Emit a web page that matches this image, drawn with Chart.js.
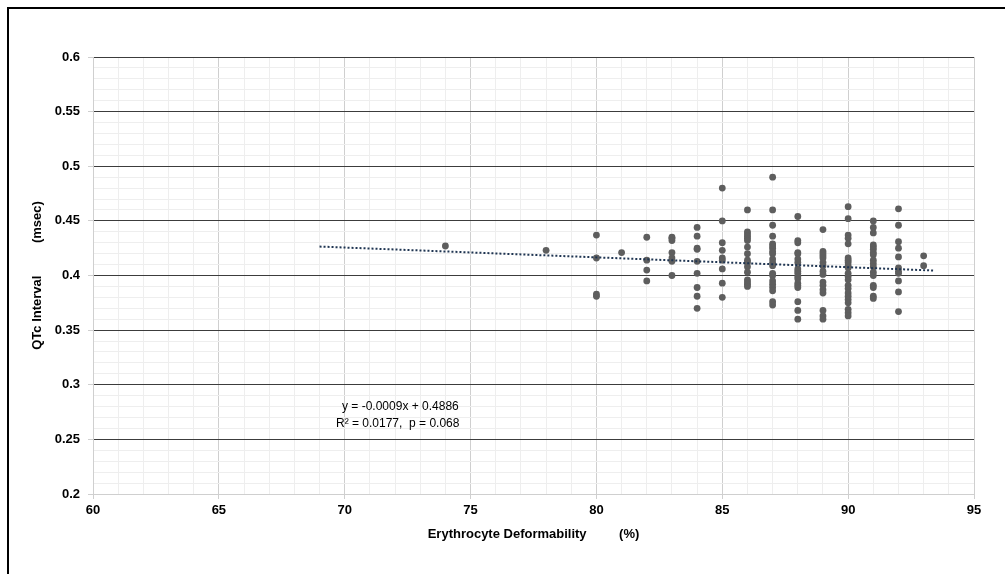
<!DOCTYPE html>
<html lang="en">
<head>
    <meta charset="UTF-8">
    <title>QTc Interval vs Erythrocyte Deformability</title>
    <script src="https://cdn.jsdelivr.net/npm/chart.js@4.4.1/dist/chart.umd.min.js"></script>
    <style>
        body {
            margin: 0;
            background: #fff;
            font-family: 'Liberation Sans', Arial, sans-serif;
        }
        .wrap {
            position: relative;
            width: 1005px;
            height: 574px;
        }
        .frame {
            position: absolute;
            left: 7px;
            top: 7px;
            right: -10px;
            bottom: -10px;
            border-left: 2px solid #000;
            border-top: 2px solid #000;
            pointer-events: none;
        }
        .eq {
            position: absolute;
            font-size: 12px;
            color: #000;
            white-space: pre;
            line-height: 16px;
        }
    </style>
</head>
<body>
<div class="wrap">
    <canvas id="chart" width="1005" height="574"></canvas>
    <div class="frame"></div>
    <div class="eq" style="left:342px; top:398px;">y = -0.0009x + 0.4886</div>
    <div class="eq" style="left:336px; top:415px;">R² = 0.0177,  p = 0.068</div>
</div>

<script>
    // deformability (%) and matching QTc values
    const deform = [
        74,
        78,
        80, 80, 80, 80,
        81,
        82, 82, 82, 82,
        83, 83, 83, 83, 83, 83, 83,
        84, 84, 84, 84, 84, 84, 84, 84, 84,
        85, 85, 85, 85, 85, 85, 85, 85, 85,
        86, 86, 86, 86, 86, 86, 86, 86, 86, 86, 86, 86, 86, 86, 86, 86,
        87, 87, 87, 87, 87, 87, 87, 87, 87, 87, 87, 87, 87, 87, 87, 87, 87, 87, 87, 87,
        88, 88, 88, 88, 88, 88, 88, 88, 88, 88, 88, 88, 88, 88, 88, 88, 88, 88,
        89, 89, 89, 89, 89, 89, 89, 89, 89, 89, 89, 89, 89, 89, 89, 89,
        90, 90, 90, 90, 90, 90, 90, 90, 90, 90, 90, 90, 90, 90, 90, 90, 90, 90, 90, 90, 90, 90,
        91, 91, 91, 91, 91, 91, 91, 91, 91, 91, 91, 91, 91, 91, 91, 91, 91,
        92, 92, 92, 92, 92, 92, 92, 92, 92, 92, 92,
        93, 93
    ];
    const qtc = [
        0.427,
        0.423,
        0.437, 0.416, 0.383, 0.381,
        0.421,
        0.435, 0.414, 0.405, 0.395,
        0.435, 0.434, 0.432, 0.421, 0.416, 0.413, 0.400,
        0.444, 0.436, 0.425, 0.424, 0.413, 0.402, 0.389, 0.381, 0.370,
        0.480, 0.450, 0.430, 0.423, 0.416, 0.414, 0.406, 0.393, 0.380,
        0.460, 0.440, 0.438, 0.436, 0.434, 0.432, 0.426, 0.420, 0.414, 0.412, 0.408, 0.403, 0.396, 0.394, 0.392, 0.390, 0.373,
        0.490, 0.460, 0.446, 0.436, 0.429, 0.427, 0.425, 0.422, 0.420, 0.415, 0.412, 0.409, 0.402, 0.400, 0.395, 0.392, 0.389, 0.386, 0.376,
        0.454, 0.432, 0.430, 0.421, 0.420, 0.415, 0.412, 0.406, 0.404, 0.402, 0.399, 0.397, 0.393, 0.391, 0.389, 0.376, 0.368, 0.360,
        0.442, 0.422, 0.420, 0.418, 0.416, 0.412, 0.409, 0.404, 0.401, 0.394, 0.391, 0.387, 0.384, 0.368, 0.363, 0.360,
        0.463, 0.452, 0.437, 0.434, 0.429, 0.416, 0.414, 0.412, 0.409, 0.407, 0.402, 0.399, 0.396, 0.391, 0.388, 0.384, 0.381, 0.378, 0.375, 0.369, 0.366, 0.363,
        0.450, 0.444, 0.439, 0.428, 0.426, 0.424, 0.421, 0.419, 0.414, 0.411, 0.408, 0.403, 0.400, 0.391, 0.389, 0.381, 0.379,
        0.461, 0.446, 0.431, 0.425, 0.417, 0.407, 0.404, 0.402, 0.395, 0.385, 0.367,
        0.418, 0.409
    ];

    // linear trendline from the figure: y = -0.0009x + 0.4886
    const trendSlope = -0.0009;
    const trendIntercept = 0.4886;
    const trendRange = [69, 93.4];

    const points = deform.map((x, i) => ({ x: x, y: qtc[i] }));
    const trend = trendRange.map(x => ({ x: x, y: trendSlope * x + trendIntercept }));

    const isMajorY = v => Math.round(v * 100) % 5 === 0;
    const isMajorX = v => Math.round(v) % 5 === 0;
    const boldFont = { family: "'Liberation Sans', Arial, sans-serif", size: 13, weight: 'bold' };

    new Chart(document.getElementById('chart'), {
        type: 'scatter',
        data: {
            datasets: [{
                data: points,
                backgroundColor: '#5e5e5e',
                borderWidth: 0,
                pointRadius: 3.4,
                pointHoverRadius: 3.4,
                order: 2
            }, {
                type: 'line',
                data: trend,
                borderColor: '#1f3552',
                borderWidth: 2,
                borderDash: [2, 2],
                pointRadius: 0,
                fill: false,
                order: 1
            }]
        },
        options: {
            responsive: false,
            animation: false,
            layout: { padding: { top: 57, right: 31, left: 0, bottom: 0 } },
            plugins: {
                legend: { display: false },
                tooltip: { enabled: false }
            },
            scales: {
                x: {
                    type: 'linear',
                    min: 60,
                    max: 95,
                    afterFit: s => { s.height = 80; },
                    ticks: {
                        stepSize: 1,
                        autoSkip: false,
                        maxRotation: 0,
                        padding: 4,
                        color: '#000',
                        font: boldFont,
                        callback: v => isMajorX(v) ? String(Math.round(v)) : ''
                    },
                    grid: {
                        color: c => isMajorX(c.tick.value) ? '#cfcfcf' : '#eeeeee',
                        tickColor: c => isMajorX(c.tick.value) ? '#cfcfcf' : 'rgba(0,0,0,0)',
                        tickLength: 5
                    },
                    border: { color: '#cfcfcf' },
                    title: {
                        display: true,
                        text: 'Erythrocyte Deformability         (%)',
                        color: '#000',
                        font: boldFont,
                        padding: { top: 0, bottom: 32 }
                    }
                },
                y: {
                    min: 0.2,
                    max: 0.6,
                    afterFit: s => { s.width = 93; },
                    ticks: {
                        stepSize: 0.01,
                        autoSkip: false,
                        padding: 8,
                        color: '#000',
                        font: boldFont,
                        callback: v => isMajorY(v) ? String(Math.round(v * 100) / 100) : ''
                    },
                    grid: {
                        color: c => isMajorY(c.tick.value) ? '#3c3c3c' : '#eeeeee',
                        tickColor: c => isMajorY(c.tick.value) ? '#cfcfcf' : 'rgba(0,0,0,0)',
                        tickLength: 5
                    },
                    border: { color: '#cfcfcf' },
                    title: {
                        display: true,
                        text: 'QTc Interval         (msec)',
                        color: '#000',
                        font: boldFont,
                        padding: { top: 30, bottom: 0 }
                    }
                }
            }
        }
    });
</script>
</body>
</html>
